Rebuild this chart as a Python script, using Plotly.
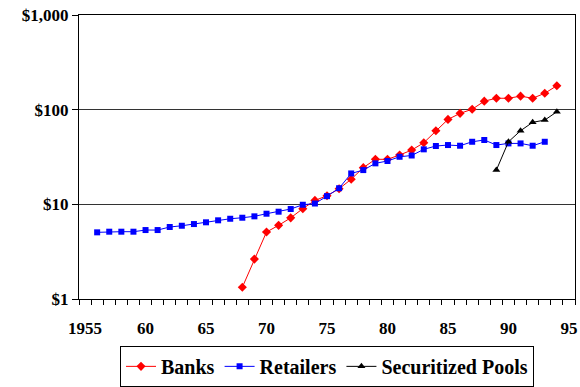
import plotly.graph_objects as go

bank_years = list(range(1968, 1995))
banks = [1.33, 2.64, 5.1, 6.0, 7.2, 9.0, 11.0, 12.3, 14.6, 18.4, 24.4, 29.9, 29.9, 33.2, 37.4,
         44.7, 59.9, 78.9, 91.4, 101, 123, 132, 132, 139, 132, 149, 179]

ret_years = list(range(1956, 1994))
retailers = [5.06, 5.14, 5.14, 5.14, 5.35, 5.35, 5.76, 5.94, 6.19, 6.46, 6.78, 7.04, 7.22, 7.47,
             7.96, 8.36, 8.92, 9.9, 10.2, 12.2, 14.8, 21.2, 23.0, 27.1, 28.7, 31.8, 32.8,
             38.1, 41.3, 42.3, 41.6, 45.8, 47.8, 42.3, 44.0, 44.0, 41.6, 45.8]

pool_years = list(range(1989, 1995))
pools = [23.0, 45.8, 59.9, 73.5, 77.6, 95.0]

x_tickvals = [1955, 1960, 1965, 1970, 1975, 1980, 1985, 1990, 1995]
x_ticktext = ["1955", "60", "65", "70", "75", "80", "85", "90", "95"]
y_tickvals = [1, 10, 100, 1000]
y_ticktext = ["$1", "$10", "$100", "$1,000"]

fig = go.Figure()
fig.add_trace(go.Scatter(x=bank_years, y=banks, name="Banks", mode="lines+markers",
                         line=dict(color="#ff0000", width=1),
                         marker=dict(symbol="diamond", size=7, color="#ff0000")))
fig.add_trace(go.Scatter(x=ret_years, y=retailers, name="Retailers", mode="lines+markers",
                         line=dict(color="#0000ff", width=1),
                         marker=dict(symbol="square", size=6, color="#0000ff")))
fig.add_trace(go.Scatter(x=pool_years, y=pools, name="Securitized Pools", mode="lines+markers",
                         line=dict(color="#000000", width=1),
                         marker=dict(symbol="triangle-up", size=7, color="#000000")))

FAM = "Liberation Serif"
tfont = dict(family=FAM, size=17, color="black", weight=700)

fig.update_layout(
    width=580, height=387,
    margin=dict(l=79, r=5, t=15, b=88, autoexpand=False),
    paper_bgcolor="white", plot_bgcolor="white",
    font=tfont,
    showlegend=True,
    legend=dict(orientation="h", x=0.5, xanchor="center", y=-0.165, yanchor="top",
                bordercolor="black", borderwidth=1,
                font=dict(family=FAM, size=20, color="black", weight=700),
                itemwidth=30, tracegroupgap=0),
    xaxis=dict(range=[1954.5, 1995.5], tickvals=x_tickvals, ticktext=x_ticktext,
               ticks="", showgrid=False, zeroline=False, showline=True, linecolor="black",
               linewidth=1, mirror=True, ticklabelstandoff=14, tickfont=tfont, automargin=False,
               minor=dict(tick0=1954.5, dtick=1, ticks="outside", ticklen=5,
                          tickcolor="black", showgrid=False)),
    yaxis=dict(type="log", range=[0, 3], tickvals=y_tickvals, ticktext=y_ticktext,
               tickfont=tfont, automargin=False,
               ticks="outside", ticklen=6, tickcolor="black", showgrid=True,
               gridcolor="#333333", gridwidth=1, zeroline=False, showline=True,
               linecolor="black", linewidth=1, mirror=True),
)

fig.write_html("out.html")
